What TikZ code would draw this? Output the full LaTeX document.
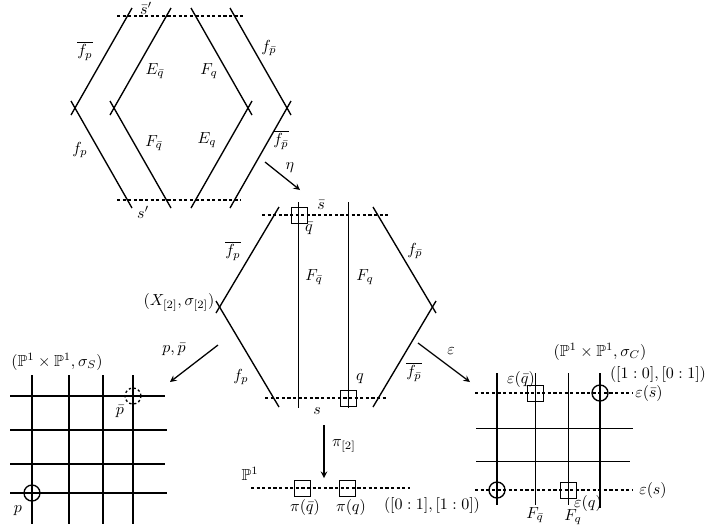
\documentclass[tikz,border=0pt]{standalone}
\usepackage{amsmath, amssymb}
\usetikzlibrary{positioning}
\usetikzlibrary{arrows}
\tikzstyle{curve} = [line width=0.85pt]
\tikzstyle{fibre} = [line width=0.6pt]
\tikzstyle{section} = [line width=0.75pt, 
dash pattern=on 2pt off 1.5pt]
\tikzstyle{marksq} = [rectangle, 
draw=black, 
line width=0.6pt,
minimum size=10pt, 
inner sep=0pt]
\tikzstyle{markcirc} = [circle, 
draw=black, 
line width=0.85pt,
minimum size=10pt, 
inner sep=0pt]
\tikzstyle{arrow} = [thick,->,>=stealth]

\begin{document}
\begin{tikzpicture}[x=0.625pt, y=-0.625pt]
            \useasboundingbox (0,0) rectangle (705,531);
            % upper surface
            \draw [section] (117,16) -- (243,16);
            \draw [section] (117,200) -- (241,200);
            \draw [curve] (132,8) -- (71,115);
            \draw [curve] (71,101) -- (132,208);
            \draw [curve] (171,8) -- (110,115);
            \draw [curve] (110,101) -- (171,208);
            \draw [curve] (191,8) -- (252,115);
            \draw [curve] (252,101) -- (191,208);
            \draw [curve] (230,8) -- (291,115);
            \draw [curve] (291,101) -- (230,208);
            \node (sbarp) at (146,8) {$\bar{s}'$};
            \node (sp) at (143,212) {$s'$};
            \node (fpbarU) at (85,51) {$\overline{f_p}$};
            \node (fpU) at (80,150) {$f_p$};
            \node (EqbU) at (155,71) {$E_{\bar q}$};
            \node (FqU) at (209,71) {$F_q$};
            \node (FqbU) at (154,143) {$F_{\bar q}$};
            \node (EqU) at (207,140) {$E_q$};
            \node (fpbU) at (269,48) {$f_{\bar p}$};
            \node (fpbbarU) at (281,140) {$\overline{f_{\bar p}}$};

            % X_[2]
            \draw [section] (262,215) -- (390,215);
            \draw [section] (265,398) -- (387,398);
            \draw [curve] (279,207) -- (216,313);
            \draw [curve] (216,301) -- (279,407);
            \draw [curve] (373,207) -- (436,313);
            \draw [curve] (436,301) -- (373,407);
            \draw [fibre] (298,202) -- (298,408);
            \draw [fibre] (348,202) -- (348,408);
            \node (qbar) [marksq] at (299,215) {};
            \node (q) [marksq] at (348,398) {};
            \node (sbar) at (321,205) {$\bar s$};
            \node (s) at (317,411) {$s$};
            \node (qbarlbl) at (309,229) {$\bar q$};
            \node (qlbl) at (360,379) {$q$};
            \node (Fqb) at (314,277) {$F_{\bar q}$};
            \node (Fq) at (365,277) {$F_q$};
            \node (fpbar) at (233,251) {$\overline{f_p}$};
            \node (fp) at (241,377) {$f_p$};
            \node (fpb) at (415,251) {$f_{\bar p}$};
            \node (fpbbar) at (414,372) {$\overline{f_{\bar p}}$};
            \node (X2) [anchor=east] at (220,302) {$(X_{[2]},\sigma_{[2]})$};

            % P^1 x P^1, sigma_S
            \node (PPS) at (57,362) {$(\mathbb{P}^1\times\mathbb{P}^1,\sigma_S)$};
            \draw [curve] (32,375) -- (32,524);
            \draw [curve] (69,375) -- (69,524);
            \draw [curve] (103,375) -- (103,524);
            \draw [curve] (133,375) -- (133,524);
            \draw [curve] (10,396) -- (165,396);
            \draw [curve] (10,430) -- (167,430);
            \draw [curve] (10,464) -- (165,464);
            \draw [curve] (10,493) -- (167,493);
            \node (pbar) [markcirc, dash pattern=on 1.5pt off 1.5pt] at (133,396) {};
            \node (p) [markcirc] at (32,493) {};
            \node (pbarlbl) at (120,412) {$\bar p$};
            \node (plbl) at (18,511) {$p$};

            % P^1 x P^1, sigma_C
            \node (PPC) at (600,352) {$(\mathbb{P}^1\times\mathbb{P}^1,\sigma_C)$};
            \node (pt10) at (658,374) {$([1:0],[0:1])$};
            \draw [curve] (497,373) -- (497,505);
            \draw [fibre] (535,373) -- (535,505);
            \draw [fibre] (568,373) -- (568,505);
            \draw [curve] (600,373) -- (600,508);
            \draw [section] (475,393) -- (633,393);
            \draw [fibre] (476,428) -- (633,428);
            \draw [fibre] (476,461) -- (630,461);
            \draw [section] (475,490) -- (633,490);
            \node (eqbar) [marksq] at (535,393) {};
            \node (eq) [marksq] at (568,490) {};
            \node (esbar) [markcirc] at (600,393) {};
            \node (es) [markcirc] at (497,490) {};
            \node (eqbarlbl) at (521,379) {$\varepsilon(\bar q)$};
            \node (esbarlbl) at (649,393) {$\varepsilon(\bar s)$};
            \node (eslbl) at (653,490) {$\varepsilon(s)$};
            \node (eqlbl) at (588,503) {$\varepsilon(q)$};
            \node (FqbC) at (535,515) {$F_{\bar q}$};
            \node (FqC) at (573,517) {$F_q$};

            % P^1
            \node (P1) at (250,474) {$\mathbb{P}^1$};
            \draw [section] (251,488) -- (410,488);
            \node (piqb) [marksq] at (302,488) {};
            \node (piq) [marksq] at (347,488) {};
            \node (piqblbl) at (305,507) {$\pi(\bar q)$};
            \node (piqlbl) at (351,507) {$\pi(q)$};
            \node (pt01) at (432,505) {$([0:1],[1:0])$};

            % maps
            \coordinate (etaS) at (265,162);
            \coordinate (etaT) at (300,190);
            \coordinate (ppS) at (218,345);
            \coordinate (ppT) at (170,382);
            \coordinate (epsS) at (418,343);
            \coordinate (epsT) at (470,382);
            \coordinate (piS) at (324,425);
            \coordinate (piT) at (324,478);
            \draw [arrow] (etaS) -- (etaT);
            \draw [arrow] (ppS) -- (ppT);
            \draw [arrow] (epsS) -- (epsT);
            \draw [arrow] (piS) -- (piT);
            \node (eta) at (290,168) {$\eta$};
            \node (ppmap) at (174,350) {$p,\bar p$};
            \node (eps) at (451,351) {$\varepsilon$};
            \node (pimap) at (344,446) {$\pi_{[2]}$};
        \end{tikzpicture}
\end{document}
